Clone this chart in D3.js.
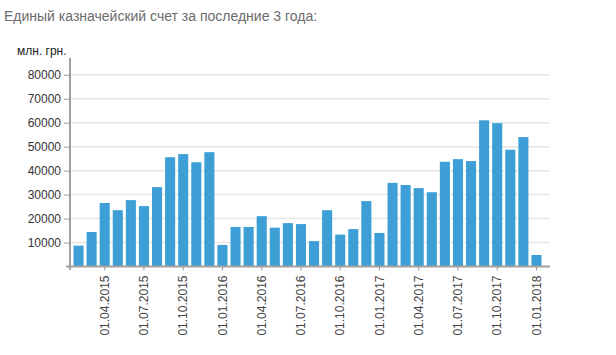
<!DOCTYPE html>
<html><head><meta charset="utf-8">
<script src="https://cdn.jsdelivr.net/npm/d3@7"></script>
<style>body{margin:0;background:#fff;}svg{display:block;font-family:"Liberation Sans",Arial,sans-serif;}</style>
</head><body><svg id="c" width="616" height="355"></svg>
<script>
const titleText = "Единый казначейский счет за последние 3 года:";
const unitText = "млн. грн.";
const months = ["01.02.2015","01.03.2015","01.04.2015","01.05.2015","01.06.2015","01.07.2015","01.08.2015","01.09.2015","01.10.2015","01.11.2015","01.12.2015",
"01.01.2016","01.02.2016","01.03.2016","01.04.2016","01.05.2016","01.06.2016","01.07.2016","01.08.2016","01.09.2016","01.10.2016","01.11.2016","01.12.2016",
"01.01.2017","01.02.2017","01.03.2017","01.04.2017","01.05.2017","01.06.2017","01.07.2017","01.08.2017","01.09.2017","01.10.2017","01.11.2017","01.12.2017",
"01.01.2018"];
const values = [8700,14400,26500,23500,27700,25200,33100,45600,46900,43500,47700,
9000,16500,16500,21000,16200,18100,17700,10600,23500,13300,15600,27300,
14000,34900,34000,32700,31000,43700,44800,44000,61000,59800,48700,54000,
4800];
const tickLabels = ["01.04.2015","01.07.2015","01.10.2015","01.01.2016","01.04.2016","01.07.2016","01.10.2016","01.01.2017","01.04.2017","01.07.2017","01.10.2017","01.01.2018"];
const yTicks = [10000,20000,30000,40000,50000,60000,70000,80000];

const svg = d3.select("#c");
const x = d3.scaleBand().domain(months).range([73.5, 541.5]).paddingInner(0.23).paddingOuter(0);
const y = d3.scaleLinear().domain([0, 87000]).range([266.5, 58]);

svg.append("text").attr("x",4).attr("y",21).attr("font-size",14).attr("fill","#6b6b6b").text(titleText);
svg.append("text").attr("x",17).attr("y",55).attr("font-size",12).attr("fill","#222").text(unitText);

// grid
svg.append("g").selectAll("line").data(yTicks).join("line")
  .attr("x1",70).attr("x2",550).attr("y1",d=>y(d)).attr("y2",d=>y(d))
  .attr("stroke","#e6e6e6").attr("stroke-width",1.5);

// bars
svg.append("g").selectAll("rect").data(values).join("rect")
  .attr("x",(d,i)=>x(months[i])).attr("width",x.bandwidth())
  .attr("y",d=>y(d)).attr("height",d=>y(0)-y(d)).attr("fill","#3d9fd6");

// y axis
const ya = svg.append("g").attr("transform","translate(70,0)")
  .call(d3.axisLeft(y).tickValues(yTicks).tickSize(6).tickPadding(3).tickFormat(d3.format("d")));
ya.select(".domain").remove();
ya.selectAll(".tick line").attr("stroke","#999");
ya.selectAll(".tick text").attr("font-size",12).attr("fill","#333").attr("font-family","Liberation Sans, Arial, sans-serif");
svg.append("line").attr("x1",70).attr("x2",70).attr("y1",58).attr("y2",270).attr("stroke","#a0a0a0").attr("stroke-width",2);

// x axis
const xa = svg.append("g").attr("transform","translate(0,"+y(0)+")")
  .call(d3.axisBottom(x).tickValues(tickLabels).tickSize(4).tickPadding(2));
xa.select(".domain").remove();
xa.selectAll(".tick line").attr("stroke","#999");
xa.selectAll(".tick text").attr("font-size",12).attr("fill","#444").attr("font-family","Liberation Sans, Arial, sans-serif")
  .attr("transform","rotate(-90)").attr("text-anchor","end").attr("x",-9).attr("y",0).attr("dy","0.35em");
svg.append("line").attr("x1",66).attr("x2",550).attr("y1",y(0)).attr("y2",y(0)).attr("stroke","#a0a0a0").attr("stroke-width",2);
</script></body></html>
